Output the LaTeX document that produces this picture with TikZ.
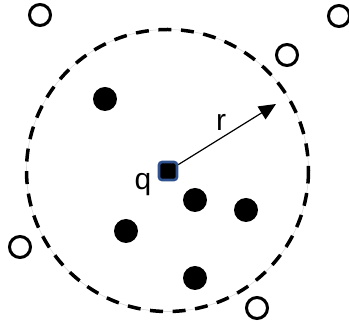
\documentclass[tikz,border=0pt]{standalone}
\usepackage{fontspec}
\setmainfont{Liberation Sans}
\usetikzlibrary{arrows.meta}

\begin{document}
\begin{tikzpicture}[x=1pt, y=-1pt,
    inpt/.style={circle, fill=black, minimum size=24pt, inner sep=0pt},
    outpt/.style={circle, draw=black, line width=3pt, minimum size=21pt, inner sep=0pt},
    query/.style={rectangle, fill=black, draw=qblue, line width=2.6pt,
                  rounded corners=3pt, minimum size=18pt, inner sep=0pt},
    lbl/.style={font=\fontsize{30}{36}\selectfont, inner sep=0pt}]
  \definecolor{qblue}{HTML}{2F528F}
  \useasboundingbox (0,0) rectangle (349,328);
  % search radius
  \draw[gray!30, line width=0.6pt] (167.5,170.5) circle [radius=141];
  \draw[line width=3.5pt, dash pattern=on 13pt off 9.6pt] (167.5,170.5) circle [radius=141];
  % points inside
  \node[inpt] (p1) at (105,99) {};
  \node[inpt] (p2) at (195,200) {};
  \node[inpt] (p3) at (246,210) {};
  \node[inpt] (p4) at (126,231) {};
  \node[inpt] (p5) at (195,278) {};
  % points outside
  \node[outpt] (o1) at (40,15) {};
  \node[outpt] (o2) at (339,16) {};
  \node[outpt] (o3) at (287,55) {};
  \node[outpt] (o4) at (20,247) {};
  \node[outpt] (o5) at (257,308) {};
  % query point and radius
  \node[query] (q) at (168,171) {};
  \coordinate (rim) at (276,104);
  \draw[line width=1.2pt, -{Triangle[length=17pt, width=15pt]}] (q) -- (rim);
  \node[lbl] (rlbl) at (221,122) {r};
  \node[lbl] (qlbl) at (143,185) {q};
\end{tikzpicture}
\end{document}
